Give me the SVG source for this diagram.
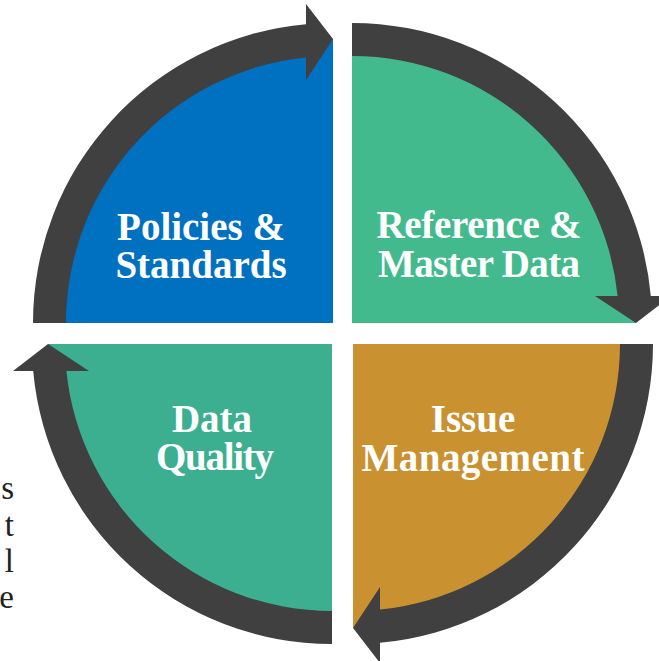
<svg xmlns="http://www.w3.org/2000/svg" xmlns:xlink="http://www.w3.org/1999/xlink" width="659" height="661" viewBox="0 0 659 661">
<style>
.lbl{font-family:"Liberation Serif",serif;font-weight:bold;font-size:39px;fill:#ffffff;text-anchor:middle}
.side{font-family:"Liberation Serif",serif;font-size:33px;fill:#222222;text-anchor:end}
.band{fill:#404040}
</style>
<defs>
<path id="arrow" d="M-300,0 A300,300 0 0 1 -27,-298.8 L-27,-319 L0,-284 L-27,-243 L-27,-265.6 A267,267 0 0 0 -267,0 Z"/>
</defs>
<rect width="659" height="661" fill="#ffffff"/>
<g id="policies-standards">
<path d="M333,323 L49,323 A284,284 0 0 1 333,39 Z" fill="#0070C0"/>
<text class="lbl" x="201" y="240">Policies &amp;</text>
<text class="lbl" x="201" y="278">Standards</text>
</g>
<g id="reference-master-data">
<path d="M352,323 L352,39 A284,284 0 0 1 636,323 Z" fill="#43BA8E"/>
<text class="lbl" x="479" y="238" textLength="205">Reference &amp;</text>
<text class="lbl" x="479" y="277" textLength="202">Master Data</text>
</g>
<g id="issue-management">
<path d="M353,344 L637,344 A284,284 0 0 1 353,628 Z" fill="#C99130"/>
<text class="lbl" x="473" y="432">Issue</text>
<text class="lbl" x="473" y="471" textLength="223">Management</text>
</g>
<g id="data-quality">
<path d="M332,344 L332,628 A284,284 0 0 1 48,344 Z" fill="#3BAF90"/>
<text class="lbl" x="212" y="432">Data</text>
<text class="lbl" x="215" y="470" textLength="118">Quality</text>
</g>
<g id="connectors">
<use xlink:href="#arrow" href="#arrow" class="band" transform="translate(333,323)"/>
<use xlink:href="#arrow" href="#arrow" class="band" transform="translate(352,323) rotate(90)"/>
<use xlink:href="#arrow" href="#arrow" class="band" transform="translate(353,344) rotate(180)"/>
<use xlink:href="#arrow" href="#arrow" class="band" transform="translate(332,344) rotate(270)"/>
</g>
<g id="side-text">
<text class="side" x="14" y="499">s</text>
<text class="side" x="14" y="536">t</text>
<text class="side" x="14" y="572">l</text>
<text class="side" x="14" y="608">e</text>
</g>
</svg>
